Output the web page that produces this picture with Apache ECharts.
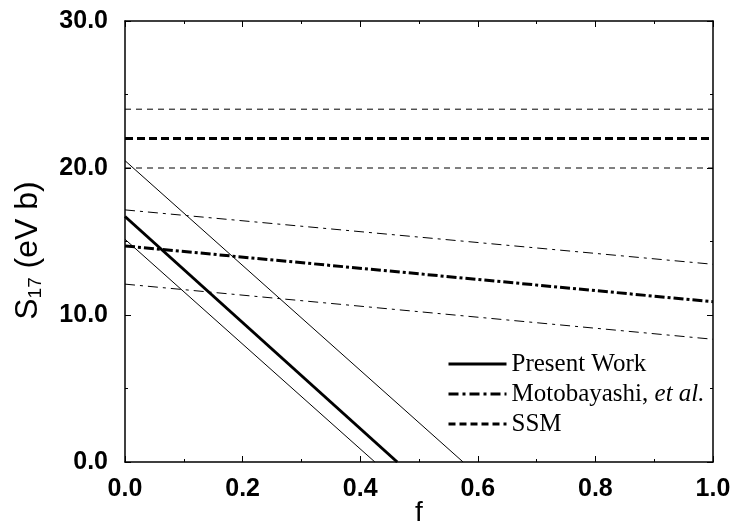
<!DOCTYPE html>
<html><head><meta charset="utf-8">
<script src="https://cdn.jsdelivr.net/npm/echarts@6/dist/echarts.min.js"></script>
<style>html,body{margin:0;padding:0;background:#fff}#c{width:735px;height:526px}</style>
</head><body><div id="c"></div>
<script>
// Present Work: central and bounds (f, S17)
const presentF = [0, 0.463];
const presentS = [16.7, 0];
const presentUpperF = [0, 0.575];
const presentUpperS = [20.5, 0];
const presentLowerF = [0, 0.425];
const presentLowerS = [15.15, 0];
// Motobayashi et al.
const motoF = [0, 1];
const motoS = [14.7, 10.9];
const motoUpperS = [17.15, 13.45];
const motoLowerS = [12.1, 8.35];
// SSM
const ssmF = [0, 1];
const ssmS = [22, 22];
const ssmUpperS = [24, 24];
const ssmLowerS = [20, 20];
const legendNames = ['Present Work', 'Motobayashi, et al.', 'SSM'];

const pairs = (xs, ys) => xs.map((x, i) => [x, ys[i]]);
const chart = echarts.init(document.getElementById('c'));
const labelFont = {fontFamily: 'Liberation Sans', fontSize: 25, fontWeight: 'bold', color: '#000'};
const dashMain = [10, 3, 3, 3], dashThin = [10, 5, 3, 5], ssmMain = [8, 4], ssmThin = [6, 5];
function mk(name, data, width, type) {
  return {name, type: 'line', data, symbol: 'none', silent: true,
    itemStyle: {color: '#000'},
    lineStyle: {color: '#000', width, type}, animation: false};
}
function axisCommon() {
  return {
    axisLine: {show: true, onZero: false, lineStyle: {color: '#000', width: 1.5}},
    axisTick: {show: true, inside: true, length: 6, lineStyle: {color: '#000'}},
    minorTick: {show: true, splitNumber: 2, length: 3, lineStyle: {color: '#000'}},
    splitLine: {show: false}
  };
}
chart.setOption({
  animation: false,
  grid: {left: 125, right: 22, top: 21, bottom: 64, containLabel: false, outerBoundsMode: 'none'},
  xAxis: [
    Object.assign(axisCommon(), {type: 'value', min: 0, max: 1, interval: 0.2, position: 'bottom',
      name: 'f', nameLocation: 'middle', nameGap: 37, nameMoveOverlap: false,
      nameTextStyle: {fontFamily: 'Liberation Sans', fontSize: 28, color: '#000'},
      axisLabel: Object.assign({margin: 15, formatter: v => v.toFixed(1)}, labelFont)}),
    Object.assign(axisCommon(), {type: 'value', min: 0, max: 1, interval: 0.2, position: 'top',
      axisLabel: {show: false}})
  ],
  yAxis: [
    Object.assign(axisCommon(), {type: 'value', min: 0, max: 30, interval: 10, position: 'left',
      name: '{s|S}{sub|17}{s| (eV b)}', nameLocation: 'middle', nameGap: 80, nameRotate: 90,
      nameMoveOverlap: false,
      nameTextStyle: {padding: [0, 18, 0, 0], rich: {
        s: {fontFamily: 'Liberation Sans', fontSize: 32, color: '#000'},
        sub: {fontFamily: 'Liberation Sans', fontSize: 19, color: '#000', verticalAlign: 'bottom', padding: [14, 0, 0, 0]}
      }},
      axisLabel: Object.assign({margin: 17, formatter: v => v.toFixed(1)}, labelFont)}),
    Object.assign(axisCommon(), {type: 'value', min: 0, max: 30, interval: 10, position: 'right',
      axisLabel: {show: false}})
  ],
  legend: {
    orient: 'vertical', left: 442, top: 345, itemWidth: 58, itemHeight: 16, itemGap: 2,
    data: [
      {name: legendNames[0], lineStyle: {width: 3, type: 'solid', color: '#000'}},
      {name: legendNames[1], lineStyle: {width: 3, type: [10, 4, 3, 4], color: '#000'}},
      {name: legendNames[2], lineStyle: {width: 3, type: [7, 4], color: '#000'}}
    ],
    itemStyle: {opacity: 0},
    textStyle: {fontFamily: 'Liberation Serif', fontSize: 25, lineHeight: 28, color: '#000',
      rich: {n: {fontFamily: 'Liberation Serif', fontSize: 25, lineHeight: 28, color: '#000'},
             i: {fontFamily: 'Liberation Serif', fontSize: 25, lineHeight: 28, fontStyle: 'italic', color: '#000'}}},
    formatter: n => n === 'Motobayashi, et al.' ? '{n|Motobayashi, }{i|et al.}' : n,
    selectedMode: false
  },
  series: [
    mk(legendNames[0], pairs(presentUpperF, presentUpperS), 1, 'solid'),
    mk(legendNames[0], pairs(presentLowerF, presentLowerS), 1, 'solid'),
    mk(legendNames[0], pairs(presentF, presentS), 3, 'solid'),
    mk(legendNames[1], pairs(motoF, motoUpperS), 1, dashThin),
    mk(legendNames[1], pairs(motoF, motoLowerS), 1, dashThin),
    mk(legendNames[1], pairs(motoF, motoS), 3, dashMain),
    mk(legendNames[2], pairs(ssmF, ssmUpperS), 1, ssmThin),
    mk(legendNames[2], pairs(ssmF, ssmLowerS), 1, ssmThin),
    mk(legendNames[2], pairs(ssmF, ssmS), 3, ssmMain),
    {type: 'line', data: [], xAxisIndex: 1, yAxisIndex: 1, silent: true}
  ]
});
</script></body></html>
